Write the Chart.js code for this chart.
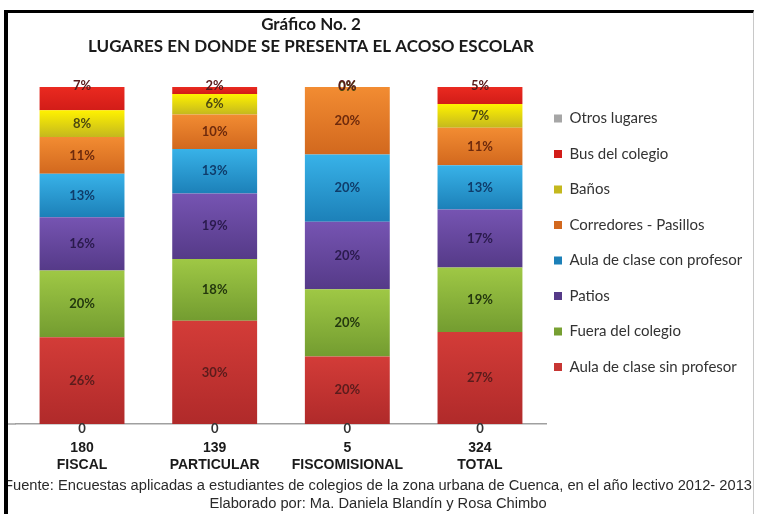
<!DOCTYPE html>
<html><head><meta charset="utf-8">
<script src="https://cdn.jsdelivr.net/npm/chart.js@4.4.0/dist/chart.umd.min.js"></script>
<style>
html,body{margin:0;padding:0;background:#fff;}
#wrap{position:relative;width:758px;height:514px;overflow:hidden;}
#frame{position:absolute;left:4px;top:10px;width:745px;height:520px;border-left:4px solid #000;border-top:3px solid #000;border-right:1px solid #c8c8c8;pointer-events:none;}
</style></head><body>
<div id="wrap"><canvas id="c" width="758" height="514" style="width:758px;height:514px"></canvas><div id="frame"></div></div>
<script>
// ---- data ----
const categories = ['FISCAL', 'PARTICULAR', 'FISCOMISIONAL', 'TOTAL'];
const respondents = [180, 139, 5, 324];
const seriesNames = ['Otros lugares', 'Aula de clase sin profesor', 'Fuera del colegio', 'Patios',
  'Aula de clase con profesor', 'Corredores - Pasillos', 'Baños', 'Bus del colegio'];
const otrosLugares    = [0, 0, 0, 0];
const aulaSinProfesor = [26, 30, 20, 27];
const fueraDelColegio = [20, 18, 20, 19];
const patios          = [16, 19, 20, 17];
const aulaConProfesor = [13, 13, 20, 13];
const corredores      = [11, 10, 20, 11];
const banos           = [8, 6, 0, 7];
const busDelColegio   = [7, 2, 0, 5];

const titleText = 'Gráfico No. 2';
const subtitleText = 'LUGARES EN DONDE SE PRESENTA EL ACOSO ESCOLAR';
const footerLine1 = 'Fuente: Encuestas aplicadas a estudiantes de colegios de la zona urbana de Cuenca, en el año lectivo 2012- 2013';
const footerLine2 = 'Elaborado por: Ma. Daniela Blandín y Rosa Chimbo';

// ---- styles ----
const solidColors = ['#a6a6a6', '#c43330', '#8cb83c', '#6446a0', '#2a9fd8', '#e97b2a', '#eee41a', '#e2231c'];
const topColors   = ['#b0b0b0', '#d33c38', '#9fc845', '#7654b2', '#38b2e8', '#f28c32', '#fff200', '#ea2a20'];
const bottomColors= ['#9a9a9a', '#b02a2a', '#739c30', '#553a88', '#1c80b8', '#d2681e', '#c4b81e', '#d21c18'];
const labelColors = ['#333333', '#5a1c1c', '#24380e', '#2a1a4c', '#0f3c6a', '#6e2a0c', '#4e4a10', '#5a1a1a'];

// ---- 100% stacking ----
const values = [otrosLugares, aulaSinProfesor, fueraDelColegio, patios, aulaConProfesor, corredores, banos, busDelColegio];
const totals = categories.map((_, i) => values.reduce((s, arr) => s + arr[i], 0));
const shares = values.map(arr => arr.map((v, i) => v / totals[i] * 100));

function segmentFill(ctx) {
  const di = ctx.datasetIndex;
  if (ctx.type !== 'data') return solidColors[di];
  const chart = ctx.chart, y = chart.scales && chart.scales.y;
  if (!y || !chart.chartArea) return solidColors[di];
  const i = ctx.dataIndex;
  let start = 0;
  for (let k = 0; k < di; k++) start += shares[k][i];
  const end = start + shares[di][i];
  const y0 = y.getPixelForValue(end), y1 = y.getPixelForValue(start);
  if (!isFinite(y0) || !isFinite(y1) || y1 - y0 < 1) return solidColors[di];
  const g = chart.ctx.createLinearGradient(0, y0, 0, y1);
  g.addColorStop(0, topColors[di]);
  g.addColorStop(1, bottomColors[di]);
  return g;
}

const legendOrder = di => (di === 0 ? 0 : values.length - di);

const legendMover = {
  id: 'legendMover',
  afterLayout(chart) {
    const L = chart.legend;
    const pad = L.options.labels.padding;
    const boxLeft = 554, firstTop = 111;
    L.left = boxLeft - pad; L.right = chart.width; L.width = L.right - L.left;
    L.top = firstTop - pad; L.bottom = chart.height; L.height = L.bottom - L.top;
  }
};

const segLabels = {
  id: 'segLabels',
  afterDatasetsDraw(chart) {
    const ctx = chart.ctx;
    ctx.save();
    ctx.textAlign = 'center';
    ctx.textBaseline = 'middle';
    ctx.font = 'bold 13px Lato, "Liberation Sans", sans-serif';
    chart.data.datasets.forEach((ds, di) => {
      const meta = chart.getDatasetMeta(di);
      meta.data.forEach((bar, i) => {
        const raw = values[di][i];
        let y, text;
        if (di === 0) { y = bar.base + 5; text = String(raw); }
        else if (di === values.length - 1) { y = bar.y - 1; text = raw + '%'; }
        else { y = (bar.y + bar.base) / 2; text = raw + '%'; }
        ctx.fillStyle = labelColors[di];
        ctx.fillText(text, bar.x, y);
      });
    });
    ctx.restore();
  }
};

const texts = {
  id: 'texts',
  afterDraw(chart) {
    const ctx = chart.ctx;
    ctx.save();
    ctx.textAlign = 'center';
    ctx.textBaseline = 'middle';
    ctx.fillStyle = '#1a1a1a';
    ctx.font = 'bold 17px Lato, "Liberation Sans", sans-serif';
    ctx.fillText(titleText, 311, 25);
    ctx.fillText(subtitleText, 311, 47);
    ctx.fillStyle = '#2a2a2a';
    ctx.font = '14.7px "Liberation Sans", Arial, sans-serif';
    ctx.fillText(footerLine1, 378, 486);
    ctx.fillText(footerLine2, 378, 504);
    // extend axis line to the frame, as in the original
    const a = chart.chartArea;
    ctx.strokeStyle = '#a0a0a0';
    ctx.lineWidth = 1.5;
    ctx.beginPath();
    ctx.moveTo(8, a.bottom);
    ctx.lineTo(a.left, a.bottom);
    ctx.stroke();
    ctx.restore();
  }
};

const bg = {
  id: 'bg',
  beforeDraw(chart) {
    const ctx = chart.ctx;
    ctx.save();
    ctx.fillStyle = '#ffffff';
    ctx.fillRect(0, 0, chart.width, chart.height);
    ctx.restore();
  }
};

new Chart(document.getElementById('c'), {
  type: 'bar',
  data: {
    labels: categories.map((c, i) => [String(respondents[i]), c]),
    datasets: seriesNames.map((name, di) => ({
      label: name,
      data: shares[di],
      backgroundColor: segmentFill,
      borderWidth: 0,
      categoryPercentage: 1,
      barPercentage: 0.64
    }))
  },
  options: {
    responsive: false,
    animation: false,
    devicePixelRatio: 1,
    layout: { padding: { left: 15.7, top: 87, right: 0, bottom: 32.4 } },
    scales: {
      x: {
        stacked: true,
        grid: { display: false },
        border: { display: true, color: '#a0a0a0', width: 1.5 },
        ticks: {
          padding: 8,
          autoSkip: false,
          maxRotation: 0,
          color: '#1a1a1a',
          font: { family: '"Liberation Sans", Arial, sans-serif', size: 14, weight: 'bold', lineHeight: 1.2 }
        }
      },
      y: { stacked: true, display: false, min: 0, max: 100 }
    },
    plugins: {
      title: { display: false },
      tooltip: { enabled: false },
      legend: {
        position: 'right',
        align: 'start',
        fullSize: false,
        maxWidth: 211.7,
        labels: {
          boxWidth: 8,
          boxHeight: 8,
          padding: 20.5,
          color: '#333333',
          font: { family: 'Lato, "Liberation Sans", sans-serif', size: 15 },
          sort: (a, b) => legendOrder(a.datasetIndex) - legendOrder(b.datasetIndex)
        }
      }
    }
  },
  plugins: [bg, legendMover, segLabels, texts]
});
</script>
</body></html>
